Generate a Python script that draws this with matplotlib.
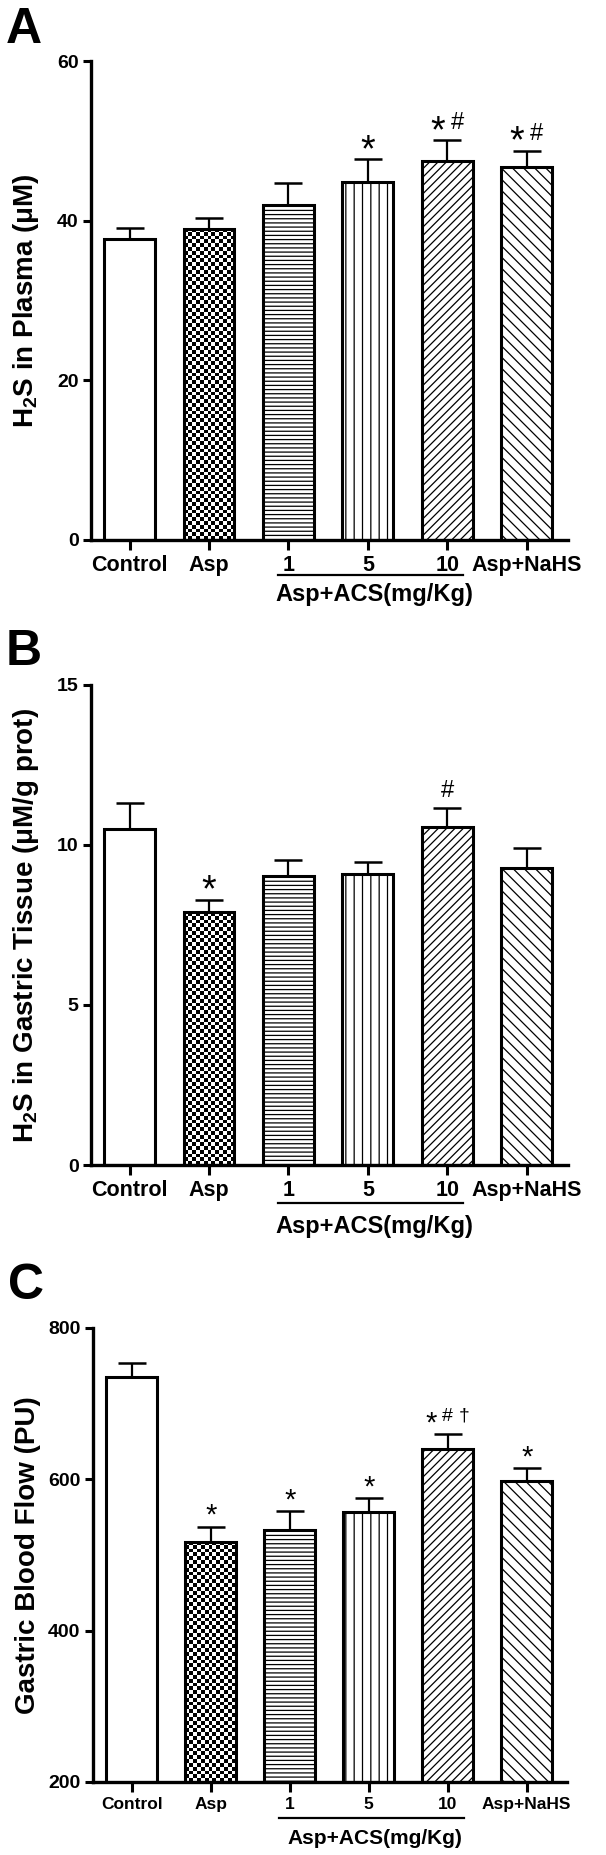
import numpy as np
import matplotlib
matplotlib.use("Agg")
import matplotlib.pyplot as plt
import matplotlib.transforms as mtransforms

# ---------------- data ----------------
groups = ['Control', 'Asp', '1', '5', '10', 'Asp+NaHS']

plasma_mean = [37.7, 39.0, 42.0, 44.9, 47.5, 46.8]
plasma_sem = [1.4, 1.4, 2.8, 2.8, 2.6, 2.0]
plasma_marks = ['', '', '', '*', '*#', '*#']

tissue_mean = [10.5, 7.9, 9.04, 9.09, 10.56, 9.29]
tissue_sem = [0.82, 0.39, 0.48, 0.37, 0.59, 0.61]
tissue_marks = ['', '*', '', '', '#', '']

flow_mean = [735, 517, 533, 557, 639, 597]
flow_sem = [18.5, 20, 25, 18, 20.6, 17.5]
flow_marks = ['', '*', '*', '*', '*#\u2020', '*']

ylabels = ['H$_{\\mathbf{2}}$S in Plasma (\u03bcM)',
           'H$_{\\mathbf{2}}$S in Gastric Tissue (\u03bcM/g prot)',
           'Gastric Blood Flow (PU)']
panel_letters = ['A', 'B', 'C']
group_label = 'Asp+ACS(mg/Kg)'

plt.rcParams['font.family'] = ['Liberation Sans', 'DejaVu Sans']
plt.rcParams['mathtext.fontset'] = 'custom'
plt.rcParams['mathtext.rm'] = 'Liberation Sans:bold'
plt.rcParams['mathtext.bf'] = 'Liberation Sans:bold'
plt.rcParams['hatch.linewidth'] = 0.9
plt.rcParams['hatch.color'] = 'black'

W, H = 606, 1855
fig = plt.figure(figsize=(W / 100, H / 100), dpi=100)

hatches = [None, None, '----', '||', '////', '\\\\\\']

# panel geometry in pixels: left, right, top, bottom
geoms = [(91, 568, 61.3, 540), (91, 568, 685, 1165), (93, 567, 1327.5, 1782)]
ylims = [(0, 60), (0, 15), (200, 800)]
yticks = [[0, 20, 40, 60], [0, 5, 10, 15], [200, 400, 600, 800]]
xlims = [(-0.485, 5.52), (-0.485, 5.52), (-0.49, 5.51)]
xtick_fs = [15.5, 15.5, 12.5]
glabel_fs = [17, 17, 15]
bracket_off = [(35, 55), (38, 62), (36, 56)]
letter_pos = [(6, 43), (6, 665), (8, 1299)]
star_fs = [27, 27, 21]
hash_fs = [17, 17, 14]

datasets = [(plasma_mean, plasma_sem, plasma_marks),
            (tissue_mean, tissue_sem, tissue_marks),
            (flow_mean, flow_sem, flow_marks)]

bar_w = 0.64
x = np.arange(len(groups))

for i, (means, sems, marks) in enumerate(datasets):
    l, r, t, b = geoms[i]
    ax = fig.add_axes([l / W, 1 - b / H, (r - l) / W, (b - t) / H])
    ax.set_xlim(*xlims[i])
    ax.set_ylim(*ylims[i])

    bars = ax.bar(x, means, width=bar_w, facecolor='none', edgecolor='black',
                  linewidth=2.2, zorder=2)
    for j, p in enumerate(bars):
        if hatches[j]:
            p.set_hatch(hatches[j])
        if j == 0:
            p.set_facecolor('white')

    # checkerboard fill for Asp bar
    ax_wpx = r - l
    ax_hpx = b - t
    xr = xlims[i][1] - xlims[i][0]
    yr = ylims[i][1] - ylims[i][0]
    bw_px = bar_w * ax_wpx / xr
    bh_px = (means[1] - ylims[i][0]) * ax_hpx / yr
    ncols = max(1, int(round(bw_px / 3.8)))
    nrows = max(1, int(round(bh_px / 3.8)))
    checker = np.add.outer(np.arange(nrows), np.arange(ncols)) % 2
    im = ax.imshow(checker, cmap='gray_r', interpolation='nearest', aspect='auto',
                   origin='lower',
                   extent=(x[1] - bar_w / 2, x[1] + bar_w / 2, ylims[i][0], means[1]),
                   zorder=1.5)
    im.set_clip_path(bars[1])
    ax.set_xlim(*xlims[i])
    ax.set_ylim(*ylims[i])
    ax.set_aspect('auto')

    ax.errorbar(x, means, yerr=[np.zeros(len(sems)), sems], fmt='none',
                ecolor='black', elinewidth=1.6, capsize=10, capthick=1.8, zorder=3)

    # annotations (glyph centres ~19 px above the error-bar top)
    for j, s in enumerate(marks):
        if not s:
            continue
        n = len(s)
        offs = {1: [0], 2: [-10, 10], 3: [-17, 0, 16]}[n]
        top = means[j] + sems[j]
        for ch, dx in zip(s, offs):
            if ch == '*':
                fs = star_fs[i]
                cfrac = 0.56
            elif ch == '#':
                fs = hash_fs[i]
                cfrac = 0.34
            else:
                fs = hash_fs[i]
                cfrac = 0.30
            fs_px = fs / 0.72
            base_dy = 19 - cfrac * fs_px
            ax.annotate(ch, xy=(x[j], top), xytext=(dx * 0.72, base_dy * 0.72),
                        textcoords='offset points', ha='center', va='baseline',
                        fontsize=fs, color='black')

    for side in ['top', 'right']:
        ax.spines[side].set_visible(False)
    for side in ['left', 'bottom']:
        ax.spines[side].set_linewidth(2.4)

    ax.set_yticks(yticks[i])
    ax.set_xticks(x)
    ax.set_xticklabels(groups, fontsize=xtick_fs[i], fontweight='bold')
    ax.tick_params(axis='y', labelsize=14, width=2.2, length=6, pad=3)
    ax.tick_params(axis='x', width=2.2, length=7, pad=3.5)
    for lab in ax.get_yticklabels():
        lab.set_fontweight('bold')

    ax.set_ylabel(ylabels[i], fontsize=20, fontweight='bold')
    ax.yaxis.set_label_coords((41 - l) / (r - l), 0.5)

    # bracket for ACS doses
    blend = mtransforms.blended_transform_factory(ax.transData, ax.transAxes)
    line_tr = mtransforms.offset_copy(blend, fig=fig, x=0, y=-bracket_off[i][0], units='dots')
    ax.plot([1.87, 4.2], [0, 0], color='black', lw=1.6, transform=line_tr, clip_on=False)
    ax.annotate(group_label, xy=(3.08, 0), xycoords=blend,
                xytext=(0, -bracket_off[i][1] * 0.72), textcoords='offset points',
                ha='center', va='center', fontsize=glabel_fs[i], fontweight='bold',
                annotation_clip=False)

    lx, ly = letter_pos[i]
    fig.text(lx / W, 1 - ly / H, panel_letters[i], fontsize=36, fontweight='bold',
             ha='left', va='baseline')

fig.savefig('out.png', dpi=100, facecolor='white')
